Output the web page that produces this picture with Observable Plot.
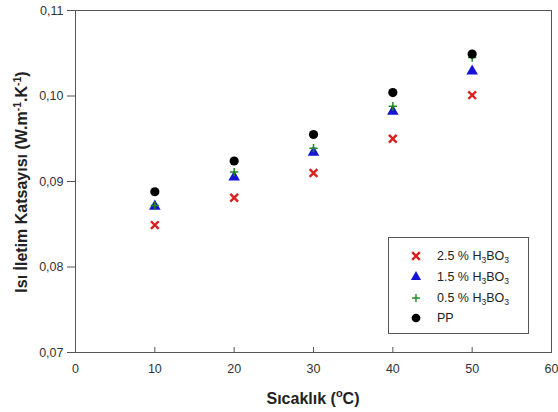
<!DOCTYPE html>
<html><head><meta charset="utf-8">
<script src="https://cdn.jsdelivr.net/npm/d3@7"></script>
<script src="https://cdn.jsdelivr.net/npm/@observablehq/plot@0.6"></script>
<style>
body{margin:0;background:#fff;font-family:"Liberation Sans",Arial,sans-serif;}
#wrap{position:relative;width:558px;height:412px;}
#legend{position:absolute;left:388px;top:237px;width:141px;height:97px;border:1px solid #555;background:#fff;box-sizing:border-box;}
.row{position:absolute;left:0;height:20px;display:flex;align-items:center;font-size:12.5px;color:#222;}
.row svg{position:absolute;left:17px;}
.row span{position:absolute;left:48px;white-space:nowrap;}
sub{font-size:8.5px;vertical-align:-3px;line-height:0;}
</style></head>
<body><div id="wrap"><div id="legend"></div></div>
<script>
const temps = [10, 20, 30, 40, 50];
const s25 = [0.0849, 0.0881, 0.0910, 0.0950, 0.1001];
const s15 = [0.0871, 0.0905, 0.0934, 0.0982, 0.1029];
const s05 = [0.0872, 0.0911, 0.0939, 0.0988, 0.1045];
const pp  = [0.0888, 0.0924, 0.0955, 0.1004, 0.1049];
const xTicks = [0, 10, 20, 30, 40, 50, 60];
const yTicks = [0.07, 0.08, 0.09, 0.10, 0.11];
const seriesNames = ["2.5 % H<sub>3</sub>BO<sub>3</sub>", "1.5 % H<sub>3</sub>BO<sub>3</sub>", "0.5 % H<sub>3</sub>BO<sub>3</sub>", "PP"];

const rows = (vals) => temps.map((t, i) => ({t, v: vals[i]}));
const red = "#dc1f1f", blue = "#1414d2", green = "#1f8a1f";

const plot = Plot.plot({
  width: 558, height: 412,
  marginLeft: 75, marginRight: 7, marginTop: 10, marginBottom: 60,
  style: {fontFamily: '"Liberation Sans", Arial, sans-serif', fontSize: "12.5px", color: "#333", background: "#fff"},
  x: {domain: [0, 60], ticks: xTicks, label: null},
  y: {domain: [0.07, 0.11], ticks: yTicks, label: null},
  marks: [
    Plot.frame({stroke: "#555"}),
    Plot.axisX({ticks: xTicks, tickSize: -5, tickPadding: 17, stroke: "#555", fontSize: 12.5, label: null}),
    Plot.axisY({ticks: yTicks, tickSize: 8, tickPadding: 4, stroke: "#555", fontSize: 12.5, label: null,
      tickFormat: d => d.toFixed(2).replace(".", ",")}),
    Plot.dot(rows(s25), {x: "t", y: "v", symbol: "times", r: 3.6, stroke: red, strokeWidth: 2.4}),
    Plot.dot(rows(s15), {x: "t", y: "v", symbol: "triangle", r: 4.3, fill: blue, stroke: "none"}),
    Plot.dot(rows(s05), {x: "t", y: "v", symbol: "plus", r: 2.8, stroke: green, strokeWidth: 1.5}),
    Plot.dot(rows(pp), {x: "t", y: "v", symbol: "circle", r: 4.6, fill: "#000", stroke: "none"})
  ]
});
document.getElementById("wrap").prepend(plot);

const svg = d3.select(plot);
// x label
const xl = svg.append("text").attr("x", 313).attr("y", 404).attr("text-anchor", "middle")
  .attr("font-size", 16).attr("font-weight", "bold").attr("fill", "#222");
xl.append("tspan").text("Sıcaklık (");
xl.append("tspan").attr("dy", -7).attr("font-size", 11).text("o");
xl.append("tspan").attr("dy", 7).text("C)");
// y label
const yl = svg.append("text").attr("transform", "translate(27,182) rotate(-90)").attr("text-anchor", "middle")
  .attr("font-size", 16).attr("font-weight", "bold").attr("fill", "#222");
yl.append("tspan").text("Isı İletim Katsayısı (W.m");
yl.append("tspan").attr("dy", -6).attr("font-size", 10.5).text("-1");
yl.append("tspan").attr("dy", 6).text(".K");
yl.append("tspan").attr("dy", -6).attr("font-size", 10.5).text("-1");
yl.append("tspan").attr("dy", 6).text(")");

// legend
const legend = document.getElementById("legend");
const legSym = [
  {type: d3.symbolX, fill: "none", stroke: red, sw: 2.4, size: 40},
  {type: d3.symbolTriangle, fill: blue, stroke: "none", sw: 0, size: 45},
  {type: d3.symbolPlus, fill: "none", stroke: green, sw: 1.4, size: 22},
  {type: d3.symbolCircle, fill: "#000", stroke: "none", sw: 0, size: 60}
];
const rowTops = [8, 29, 50, 70];
seriesNames.forEach((name, i) => {
  const r = document.createElement("div");
  r.className = "row";
  r.style.top = rowTops[i] + "px";
  const s = d3.create("svg").attr("width", 20).attr("height", 20);
  s.append("path").attr("transform", "translate(10,10)").attr("d", d3.symbol(legSym[i].type, legSym[i].size)())
    .attr("fill", legSym[i].fill).attr("stroke", legSym[i].stroke).attr("stroke-width", legSym[i].sw);
  r.appendChild(s.node());
  const sp = document.createElement("span");
  sp.innerHTML = name;
  r.appendChild(sp);
  legend.appendChild(r);
});
</script>
</body></html>
